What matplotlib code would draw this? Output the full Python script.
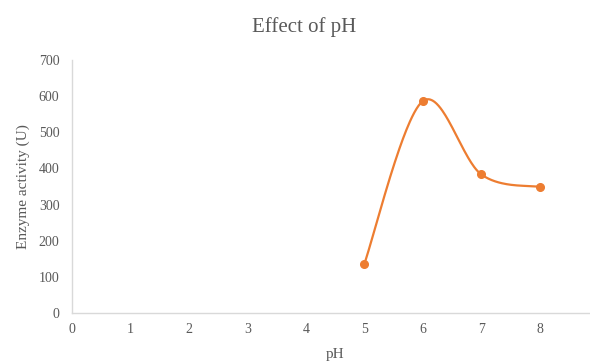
import numpy as np
import matplotlib.pyplot as plt

ph = [5, 6, 7, 8]
activity = [135, 586, 384, 349]
x_ticks = list(range(0, 10))
y_ticks = list(range(0, 701, 100))


def smooth(xs, ys, n=60):
    # catmull-rom style bezier, close to excel's smoothed line
    xs = np.asarray(xs, float)
    ys = np.asarray(ys, float)
    px = np.concatenate([[xs[0]], xs, [xs[-1]]])
    py = np.concatenate([[ys[0]], ys, [ys[-1]]])
    out_x, out_y = [], []
    t = np.linspace(0, 1, n)
    for i in range(1, len(px) - 2):
        p0 = np.array([px[i], py[i]])
        p3 = np.array([px[i + 1], py[i + 1]])
        c1 = p0 + (np.array([px[i + 1], py[i + 1]]) - np.array([px[i - 1], py[i - 1]])) / 6
        c2 = p3 - (np.array([px[i + 2], py[i + 2]]) - p0) / 6
        b = ((1 - t) ** 3)[:, None] * p0 + (3 * (1 - t) ** 2 * t)[:, None] * c1 \
            + (3 * (1 - t) * t ** 2)[:, None] * c2 + (t ** 3)[:, None] * p3
        out_x.extend(b[:, 0])
        out_y.extend(b[:, 1])
    return out_x, out_y


plt.rcParams['font.family'] = ['Liberation Serif', 'DejaVu Serif']
grey = '#595959'

fig = plt.figure(figsize=(5.9, 3.64), dpi=100)
ax = fig.add_axes([0.122, 0.14, 0.8915, 0.695])

sx, sy = smooth(ph, activity)
ax.plot(sx, sy, color='#ED7D31', lw=1.6, zorder=2)
ax.plot(ph, activity, 'o', color='#ED7D31', ms=5.5, zorder=3)

ax.set_xlim(0, 9)
ax.set_ylim(0, 700)
ax.set_xticks(x_ticks)
ax.set_yticks(y_ticks)
ax.tick_params(length=0, labelsize=10, labelcolor=grey)
ax.tick_params(axis='x', pad=7)
ax.tick_params(axis='y', pad=9)
for s in ['top', 'right']:
    ax.spines[s].set_visible(False)
for s in ['left', 'bottom']:
    ax.spines[s].set_color('#d9d9d9')
    ax.spines[s].set_linewidth(1)

ax.set_xlabel('pH', fontsize=11, color=grey, labelpad=9)
ax.set_ylabel('Enzyme activity (U)', fontsize=11, color=grey, labelpad=6)
fig.text(0.515, 0.925, 'Effect of pH', ha='center', va='center', fontsize=15, color=grey)

fig.savefig('out.png', dpi=100)
